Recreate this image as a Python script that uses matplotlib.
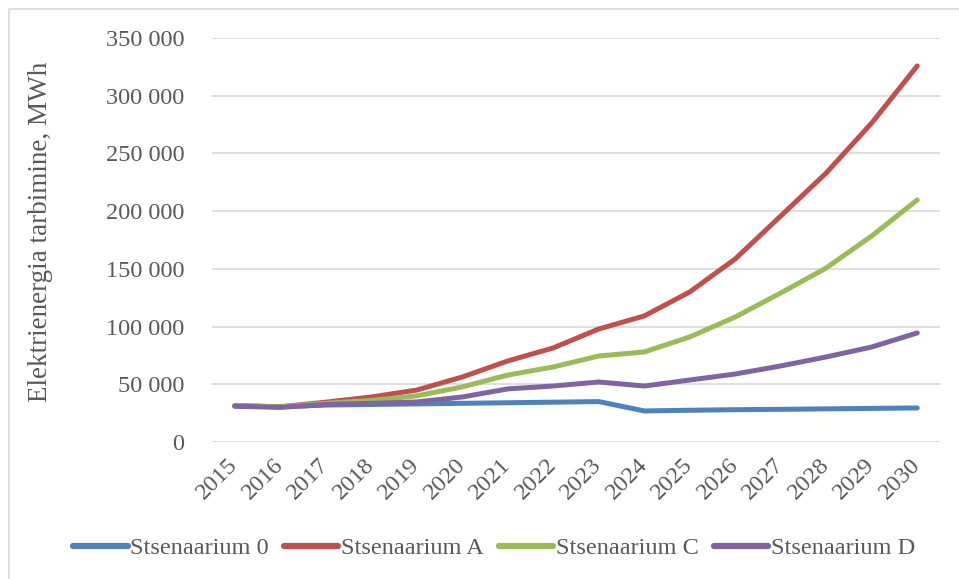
import matplotlib
matplotlib.use("Agg")
import matplotlib.pyplot as plt
from matplotlib.patches import Rectangle
from matplotlib.ticker import FuncFormatter, MultipleLocator

years = [str(y) for y in range(2015, 2031)]
s0 = [31200, 30500, 32000, 32500, 33000, 33500, 34000, 34500, 35000, 26900, 27500, 28000, 28300, 28700, 29100, 29500]
sA = [31500, 30500, 34500, 39000, 45000, 56300, 70200, 81500, 97900, 109200, 130000, 158600, 195800, 233100, 276400, 325800]
sC = [31500, 30500, 33500, 36000, 40000, 47700, 58000, 65000, 74500, 78000, 91000, 108300, 129100, 150800, 178500, 209700]
sD = [31000, 30000, 32500, 33500, 34700, 39000, 46000, 48500, 52000, 48500, 53700, 58900, 65900, 73700, 82300, 94500]
names = ["Stsenaarium 0", "Stsenaarium A", "Stsenaarium C", "Stsenaarium D"]
colors = ["#4f81bd", "#c0504d", "#9bbb59", "#8064a2"]

plt.rcParams['font.family'] = ['Liberation Serif', 'DejaVu Serif']
txt = "#595959"

fig = plt.figure(figsize=(9.59, 5.79), dpi=100)
fig.patches.append(Rectangle((9/959, -0.1), 1.2, 1.1 - 9/579, transform=fig.transFigure,
                             fill=False, edgecolor="#d9d9d9", linewidth=1.2))
ax = fig.add_axes([212/959, 1-442/579, (940-212)/959, (442-38)/579])

x = list(range(len(years)))
for vals, name, c in zip([s0, sA, sC, sD], names, colors):
    ax.plot(x, vals, color=c, lw=3.6, label=name, solid_capstyle='round', solid_joinstyle='round')

ax.set_xlim(-0.5, len(years) - 0.5)
ax.set_ylim(0, 350000)
ax.yaxis.set_major_locator(MultipleLocator(50000))
ax.yaxis.set_major_formatter(FuncFormatter(lambda v, p: f"{int(v):,}".replace(",", " ")))
ax.grid(axis='y', color="#d9d9d9", lw=1.2)
ax.set_axisbelow(True)
for s in ax.spines.values():
    s.set_visible(False)
ax.tick_params(axis='both', length=0, labelsize=17.5, colors=txt)
ax.tick_params(axis='y', pad=20)
ax.set_xticks(x)
ax.set_xticklabels(years, rotation=45, ha='right', rotation_mode='anchor', va='center')
ax.tick_params(axis='x', pad=14)
ax.set_ylabel("Elektrienergia tarbimine, MWh", fontsize=19.5, color=txt, va='center')
ax.yaxis.set_label_coords((40-212)/728, (442-232)/404)

leg = fig.legend(loc='center', bbox_to_anchor=(494/959, 1-548/579), ncol=4, frameon=False,
                 fontsize=17.5, handlelength=2.25, handletextpad=0.1, columnspacing=0.62,
                 labelcolor=txt)
for l in leg.get_lines():
    l.set_linewidth(4.5)

fig.savefig("out.png", dpi=100)
